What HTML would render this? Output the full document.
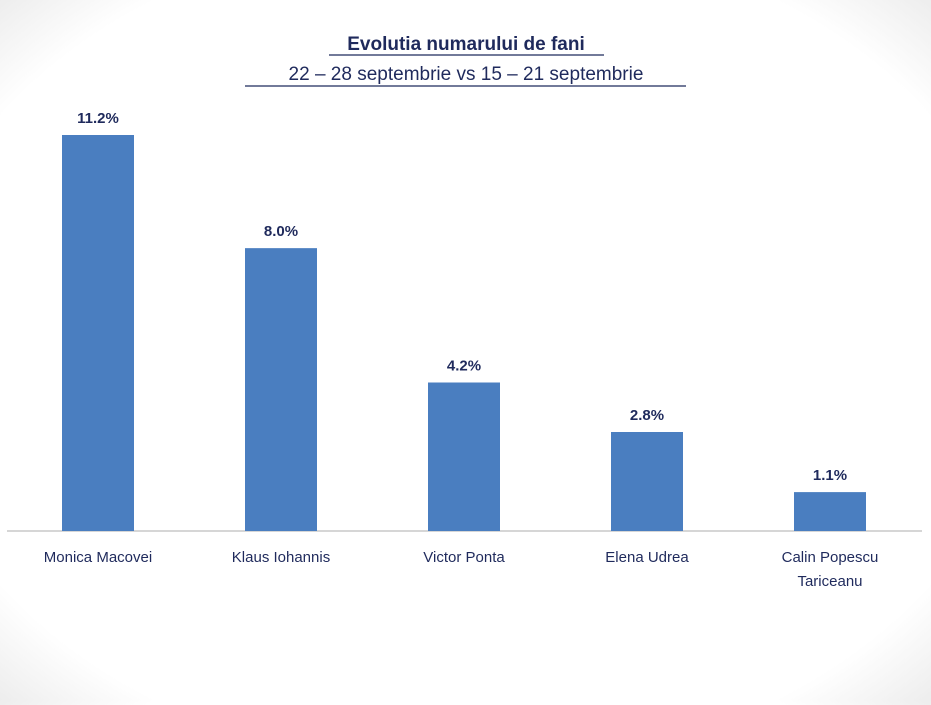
<!DOCTYPE html>
<html><head><meta charset="utf-8"><style>
body{margin:0;width:931px;height:700px;overflow:hidden;font-family:"Liberation Sans",sans-serif;
background:radial-gradient(ellipse 75% 75% at 50% 50%,#fff 80%,#e6e6e6 100%);}
</style></head><body>
<svg width="931" height="700">
<text x="466" y="50" text-anchor="middle" font-size="19" font-weight="bold" fill="#1f2a5c">Evolutia numarului de fani</text>
<line x1="329" y1="55" x2="604" y2="55" stroke="#1f2a5c" stroke-width="1.3"/>
<text x="466" y="80" text-anchor="middle" font-size="19" fill="#1f2a5c">22 – 28 septembrie vs  15 – 21 septembrie</text>
<line x1="245" y1="86" x2="686" y2="86" stroke="#1f2a5c" stroke-width="1.3"/>
<line x1="7" y1="531" x2="922" y2="531" stroke="#c8c8c8" stroke-width="1.5"/>
<g id="bars"></g>
</svg>
<script>
const categories=[["Monica Macovei"],["Klaus Iohannis"],["Victor Ponta"],["Elena Udrea"],["Calin Popescu","Tariceanu"]];
const values=[11.2,8.0,4.2,2.8,1.1];
const valueLabels=["11.2%","8.0%","4.2%","2.8%","1.1%"];
const base=531,scale=396/11.2,x0=98,step=183,bw=72;
const y=v=>base-v*scale, x=i=>x0+i*step;
const g=document.getElementById('bars'),NS="http://www.w3.org/2000/svg";
values.forEach((v,i)=>{
 const r=document.createElementNS(NS,'rect');
 r.setAttribute('x',x(i)-bw/2);r.setAttribute('y',y(v));r.setAttribute('width',bw);r.setAttribute('height',base-y(v));r.setAttribute('fill','#4a7ec0');
 
 
 g.appendChild(r);
 const t=document.createElementNS(NS,'text');
 t.setAttribute('x',x(i));t.setAttribute('y',y(v)-12);t.setAttribute('text-anchor','middle');t.setAttribute('font-size','15');t.setAttribute('font-weight','bold');t.setAttribute('fill','#1f2a5c');
 t.textContent=valueLabels[i];
 
 
 g.appendChild(t);
 categories[i].forEach((line,j)=>{
  const c=document.createElementNS(NS,'text');
  c.setAttribute('x',x(i));c.setAttribute('y',562+j*24);c.setAttribute('text-anchor','middle');c.setAttribute('font-size','15');c.setAttribute('fill','#1f2a5c');
  c.textContent=line;
  
  
  g.appendChild(c);
 });
});
</script>
</body></html>
